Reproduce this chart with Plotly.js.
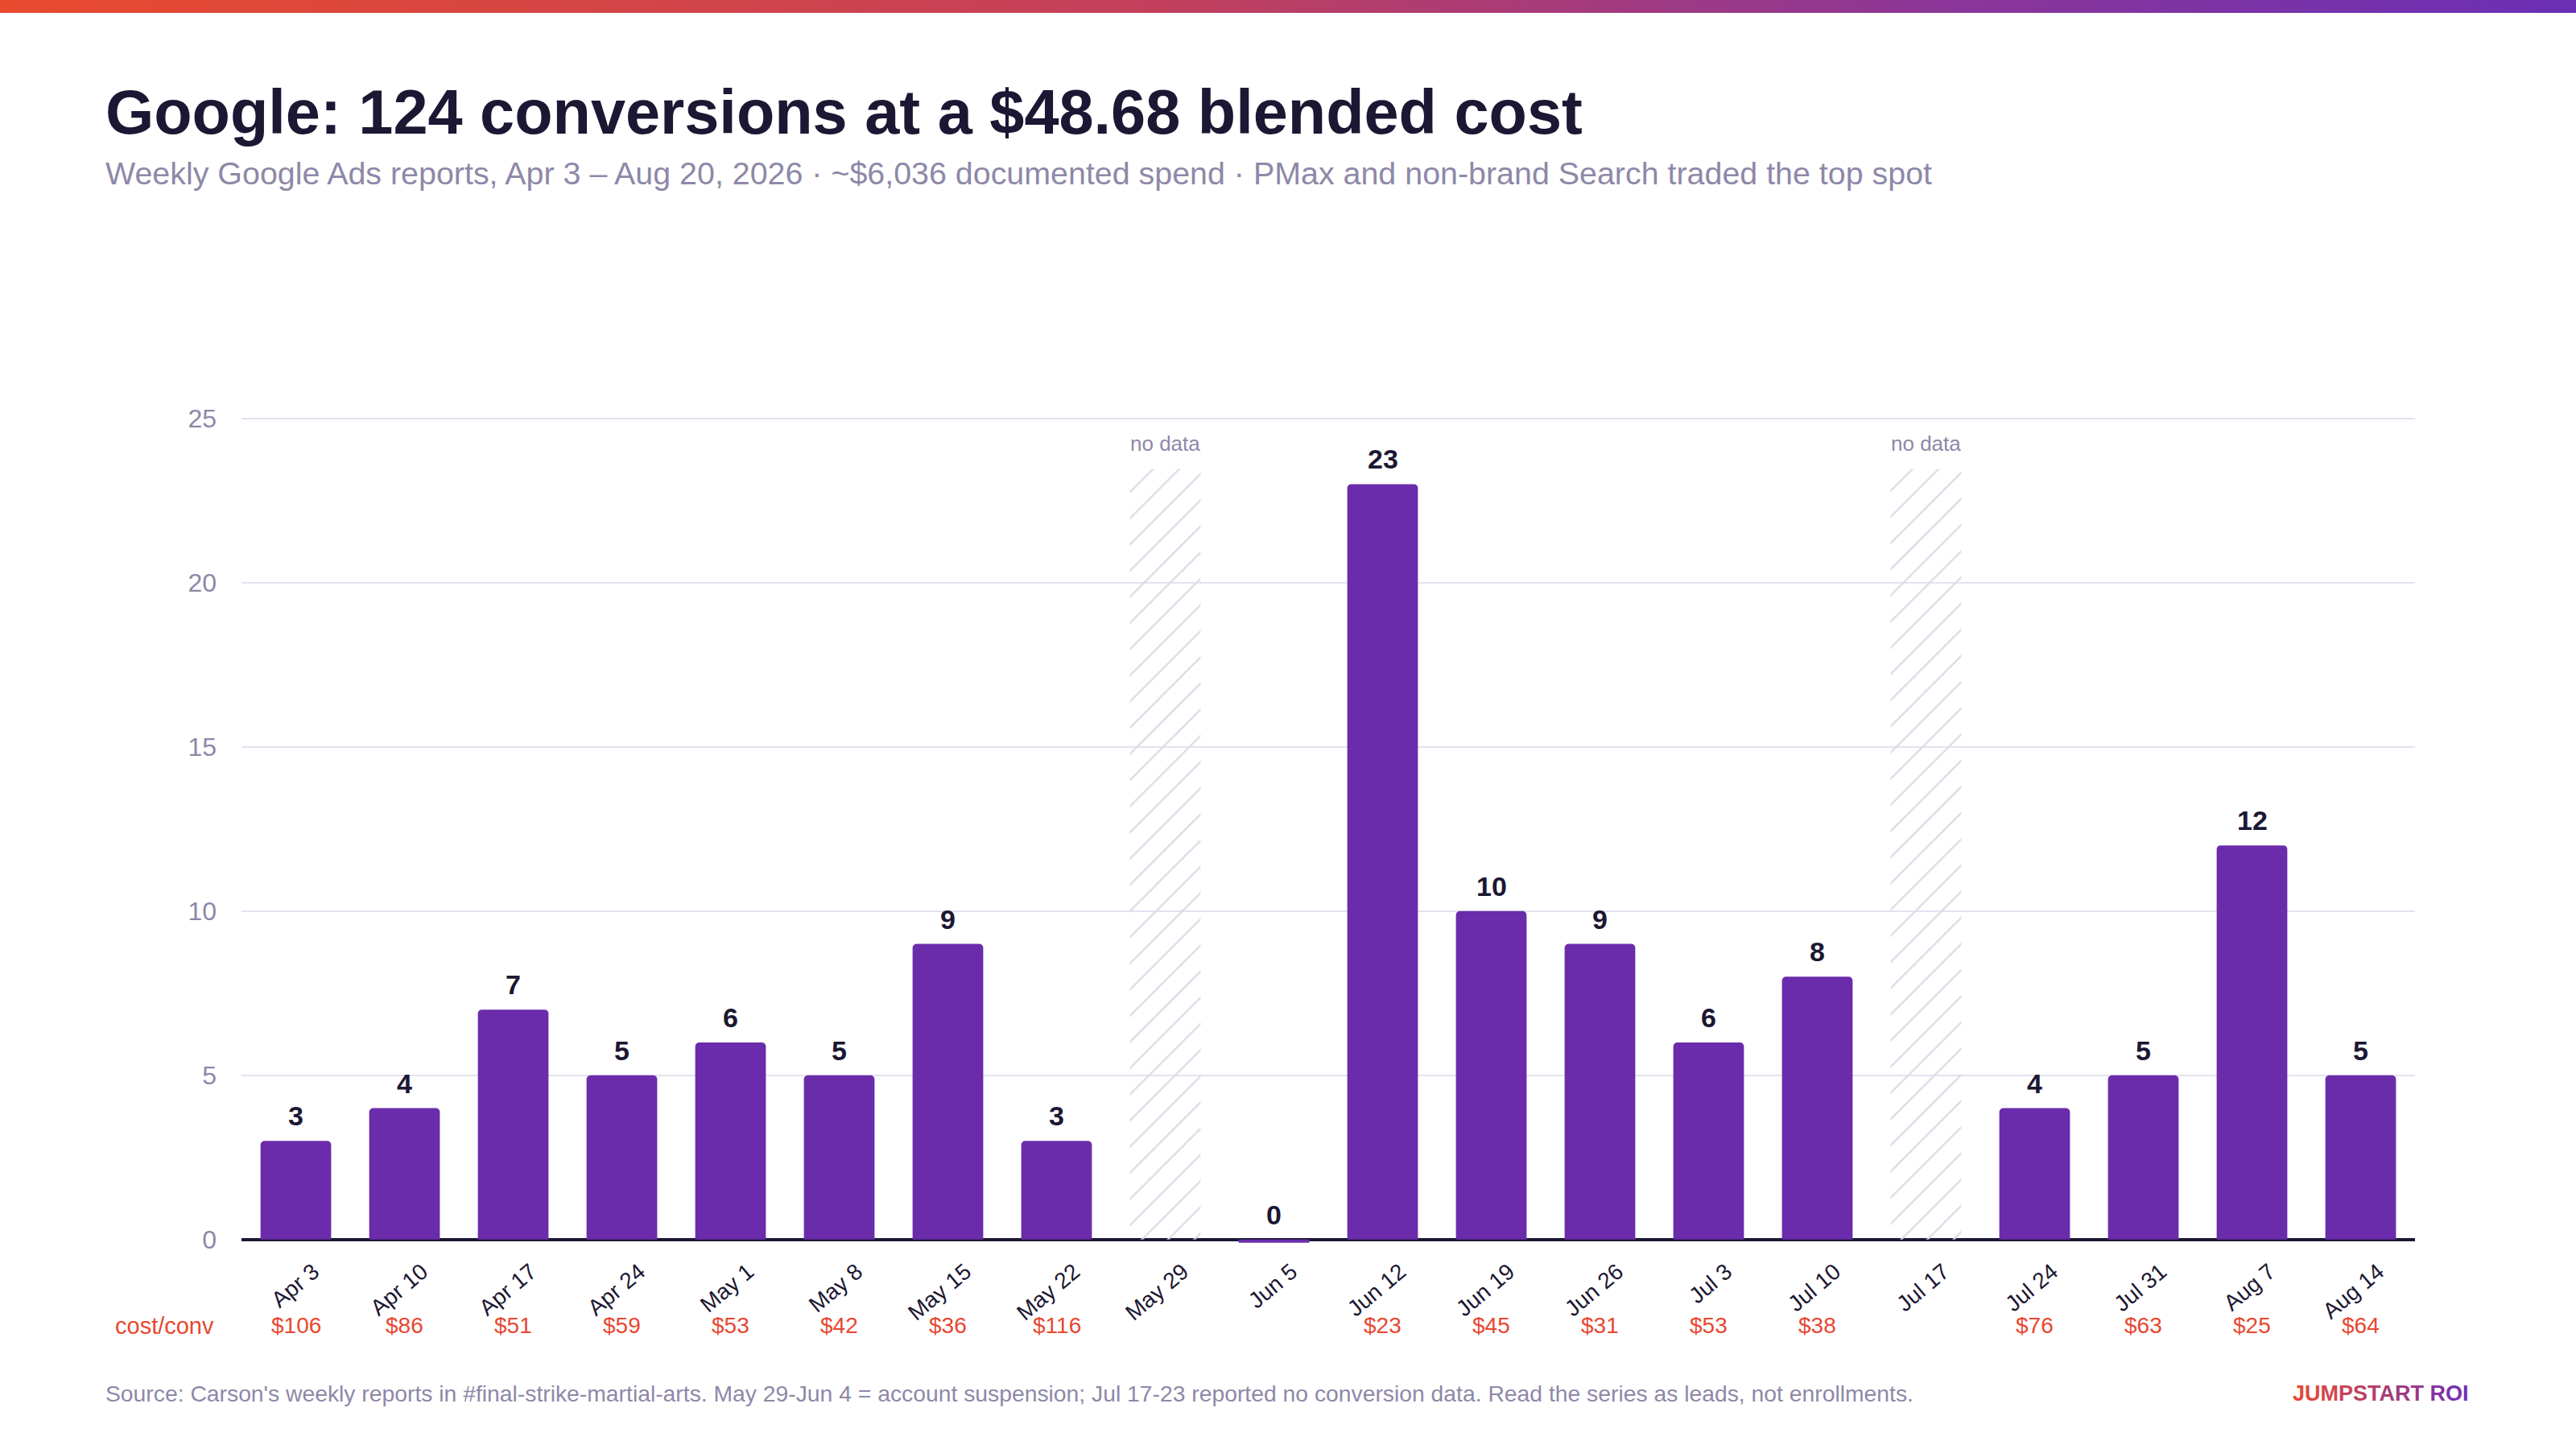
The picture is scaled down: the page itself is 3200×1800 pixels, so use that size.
<!DOCTYPE html>
<html>
<head>
<meta charset="utf-8">
<script src="https://cdn.plot.ly/plotly-3.0.1.min.js"></script>
<style>
  html, body { margin: 0; padding: 0; background: #ffffff; }
  #topbar { position: absolute; left: 0; top: 0; width: 3200px; height: 16px; z-index: 5;
            background: linear-gradient(90deg, #e84a2e 0%, #c2405c 45%, #8c3698 75%, #6a2fb5 100%); }
  #plot { width: 3200px; height: 1800px; }
</style>
</head>
<body>
<div id="topbar"></div>
<div id="plot"></div>
<script>
// weekly report dates (week starting)
var weeks = ['Apr 3', 'Apr 10', 'Apr 17', 'Apr 24', 'May 1', 'May 8', 'May 15', 'May 22', 'May 29', 'Jun 5',
             'Jun 12', 'Jun 19', 'Jun 26', 'Jul 3', 'Jul 10', 'Jul 17', 'Jul 24', 'Jul 31', 'Aug 7', 'Aug 14']
// conversions per week, null = no data reported
var conversions = [3, 4, 7, 5, 6, 5, 9, 3, null, 0, 23, 10, 9, 6, 8, null, 4, 5, 12, 5]
// cost per conversion in $, null where nothing to show
var cost_per_conv = [106, 86, 51, 59, 53, 42, 36, 116, null, null, 23, 45, 31, 53, 38, null, 76, 63, 25, 64]
var y_ticks = [0, 5, 10, 15, 20, 25]

var title_text = 'Google: 124 conversions at a $48.68 blended cost'
var subtitle_text = 'Weekly Google Ads reports, Apr 3 \u2013 Aug 20, 2026 \u00b7 ~$6,036 documented spend \u00b7 PMax and non-brand Search traded the top spot'
var source_text = "Source: Carson's weekly reports in #final-strike-martial-arts. May 29-Jun 4 = account suspension; Jul 17-23 reported no conversion data. Read the series as leads, not enrollments."
var brand_text = 'JUMPSTART ROI'

var FONT = 'Liberation Sans, Arial, Helvetica, sans-serif'
var NAVY = '#1c1733'
var PURPLE = '#6a2cab'
var MUTED = '#8e88a8'
var RED = '#e8472f'

// the hatched "no data" columns reach just past the tallest bar
var max_conv = Math.max.apply(null, conversions.filter(function(v) { return v !== null }))
var hatch_top = max_conv * 1.02

var bar_trace = {
   type: 'bar',
   x: weeks,
   y: conversions,
   marker: {color: PURPLE, cornerradius: 5, line: {width: 0}},
   hoverinfo: 'x+y'
}
// zero weeks get a thin stub under the axis so the slot is not empty
var zero_trace = {
   type: 'bar',
   x: weeks,
   y: conversions.map(function(v) { return v === 0 ? -0.1 : null }),
   marker: {color: PURPLE, line: {width: 0}},
   hoverinfo: 'skip'
}
var hatch_trace = {
   type: 'bar',
   x: weeks,
   y: conversions.map(function(v) { return v === null ? hatch_top : null }),
   marker: {
      color: 'rgba(0,0,0,0)',
      line: {width: 0},
      pattern: {shape: '/', fgcolor: '#dcdbe7', bgcolor: 'rgba(0,0,0,0)', size: 23, solidity: 0.1}
   },
   hoverinfo: 'skip'
}

var annotations = []
for (var i = 0; i < weeks.length; i++) {
   if (conversions[i] !== null) {
      annotations.push({
         x: weeks[i], y: conversions[i], xref: 'x', yref: 'y',
         text: String(conversions[i]), showarrow: false,
         yanchor: 'bottom', yshift: 10,
         font: {family: FONT, size: 34, color: NAVY, weight: 'bold'}
      })
   } else {
      annotations.push({
         x: weeks[i], y: hatch_top, xref: 'x', yref: 'y',
         text: 'no data', showarrow: false,
         yanchor: 'bottom', yshift: 15,
         font: {family: FONT, size: 26, color: MUTED}
      })
   }
   if (cost_per_conv[i] !== null) {
      annotations.push({
         x: weeks[i], y: 0, xref: 'x', yref: 'y',
         text: '$' + cost_per_conv[i], showarrow: false,
         yanchor: 'middle', yshift: -107,
         font: {family: FONT, size: 28, color: RED}
      })
   }
}
annotations.push({
   x: -0.012, y: 0, xref: 'paper', yref: 'y', xanchor: 'right', yanchor: 'middle', yshift: -107,
   text: 'cost/conv', showarrow: false,
   font: {family: FONT, size: 29, color: RED}
})
annotations.push({
   x: -0.0633, y: 1, xref: 'paper', yref: 'paper', xanchor: 'left', yanchor: 'middle', yshift: 340,
   text: title_text, showarrow: false,
   font: {family: FONT, size: 77.5, color: NAVY, weight: 'bold'}
})
annotations.push({
   x: -0.0633, y: 1, xref: 'paper', yref: 'paper', xanchor: 'left', yanchor: 'middle', yshift: 264,
   text: subtitle_text, showarrow: false,
   font: {family: FONT, size: 39.4, color: MUTED}
})
annotations.push({
   x: -0.0633, y: 0, xref: 'paper', yref: 'y', xanchor: 'left', yanchor: 'middle', yshift: -191,
   text: source_text, showarrow: false,
   font: {family: FONT, size: 28.3, color: MUTED}
})

// brand mark: letters shaded from red-orange to purple
function mix(a, b, t) {
   var ca = [parseInt(a.substr(1, 2), 16), parseInt(a.substr(3, 2), 16), parseInt(a.substr(5, 2), 16)]
   var cb = [parseInt(b.substr(1, 2), 16), parseInt(b.substr(3, 2), 16), parseInt(b.substr(5, 2), 16)]
   return 'rgb(' + ca.map(function(c, k) { return Math.round(c + (cb[k] - c) * t) }).join(',') + ')'
}
var brand_html = brand_text.split('').map(function(ch, k, arr) {
   return '<span style="color:' + mix('#e44a35', '#7030b8', k / (arr.length - 1)) + '">' + ch + '</span>'
}).join('')
annotations.push({
   x: 1.0256, y: 0, xref: 'paper', yref: 'y', xanchor: 'right', yanchor: 'middle', yshift: -191,
   text: brand_html, showarrow: false,
   font: {family: FONT, size: 27, color: '#e44a35', weight: 'bold'}
})

var layout = {
   width: 3200,
   height: 1800,
   paper_bgcolor: '#ffffff',
   plot_bgcolor: '#ffffff',
   showlegend: false,
   barmode: 'overlay',
   bargap: 0.35,
   margin: {l: 300, r: 200, t: 479, b: 246},
   font: {family: FONT, color: NAVY},
   xaxis: {
      type: 'category',
      range: [-0.5, weeks.length - 0.5],
      showgrid: false,
      showline: false,
      ticks: '',
      tickangle: -40,
      ticklabelstandoff: 3,
      ticklabelshift: 22,
      tickfont: {family: FONT, size: 28, color: NAVY},
      fixedrange: true
   },
   yaxis: {
      range: [-0.35, 26],
      tickvals: y_ticks,
      showgrid: true,
      gridcolor: '#e4e2ee',
      gridwidth: 2,
      zeroline: true,
      zerolinecolor: NAVY,
      zerolinewidth: 4,
      showline: false,
      ticks: '',
      ticklabelstandoff: 30,
      tickfont: {family: FONT, size: 32, color: MUTED},
      fixedrange: true
   },
   annotations: annotations
}

Plotly.newPlot('plot', [hatch_trace, zero_trace, bar_trace], layout, {displayModeBar: false, staticPlot: true})
</script>
</body>
</html>
